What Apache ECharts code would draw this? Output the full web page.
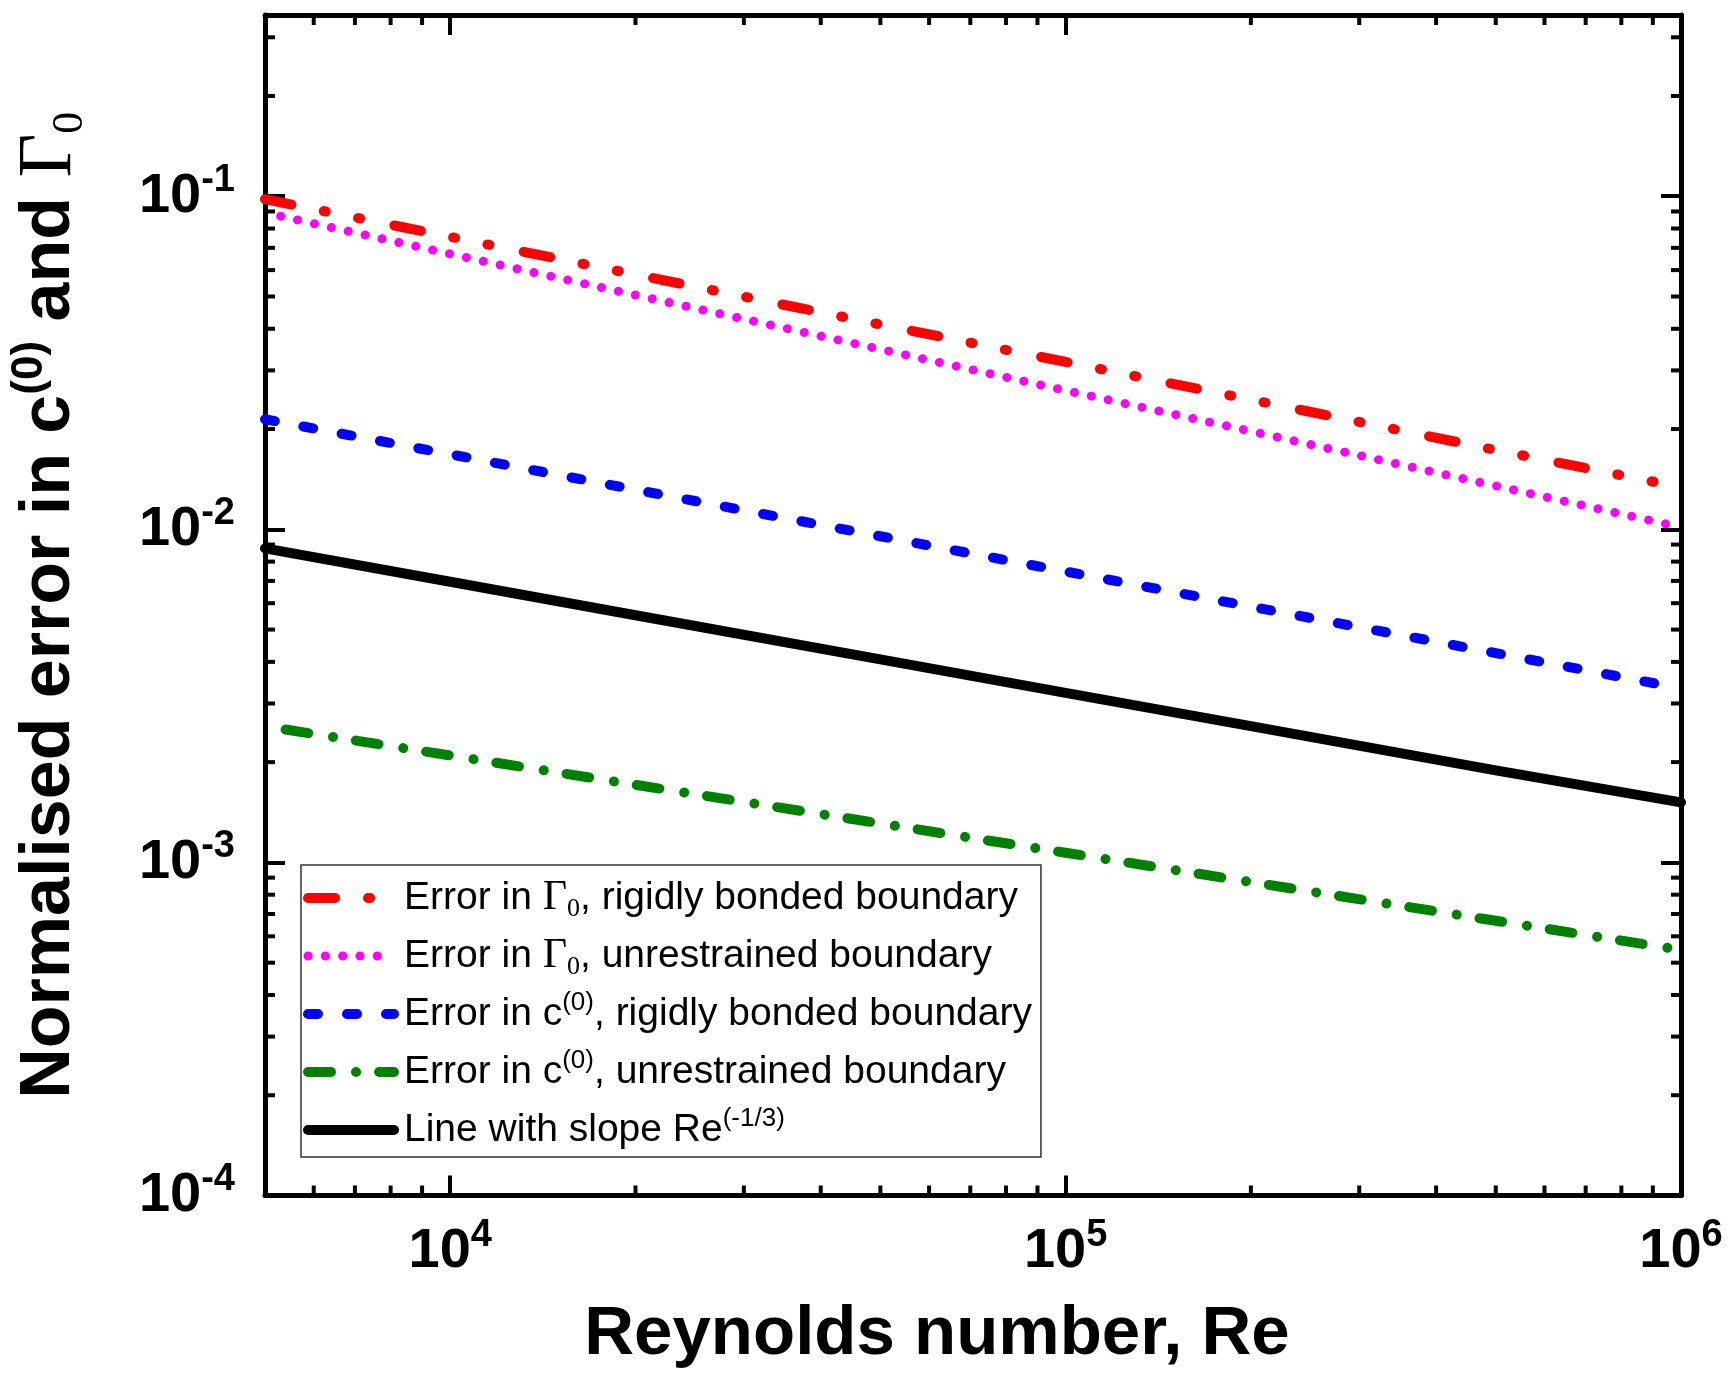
<!DOCTYPE html>
<html>
<head>
<meta charset="utf-8">
<script src="https://cdn.jsdelivr.net/npm/echarts@6/dist/echarts.min.js"></script>
<style>
html,body{margin:0;padding:0;background:#fff;}
#chart{width:1730px;height:1394px;}
</style>
</head>
<body>
<div id="chart"></div>
<script>
// ---- data ----
const reFull = [5000, 10000, 20000, 50000, 100000, 200000, 500000, 1000000];
const reMagenta = [5300, 10000, 20000, 50000, 100000, 200000, 500000, 1000000];
const reGreen = [5400, 10000, 20000, 50000, 100000, 200000, 500000, 1000000];

const gammaRigid = [0.0980, 0.0755, 0.0582, 0.0412, 0.0318, 0.0245, 0.0173, 0.01337];
const gammaUnres = [0.0871, 0.0671, 0.0505, 0.0347, 0.0261, 0.0197, 0.0135, 0.01014];
const cRigid     = [0.0214, 0.0168, 0.01315, 0.00953, 0.00747, 0.00586, 0.00425, 0.00333];
const cUnres     = [0.002506, 0.002094, 0.001710, 0.001309, 0.001069, 0.000873, 0.000668, 0.000546];
const slopeLine  = [0.00877, 0.00696, 0.00552, 0.00407, 0.00323, 0.002564, 0.001889, 0.001514];

const seriesNames = [
  'Error in Γ0, rigidly bonded boundary',
  'Error in Γ0, unrestrained boundary',
  'Error in c(0), rigidly bonded boundary',
  'Error in c(0), unrestrained boundary',
  'Line with slope Re(-1/3)'
];
const legendRich = [
  '{pd| }{t|Error in }{g|Γ}{sub|0}{t|, rigidly bonded boundary}',
  '{pd| }{t|Error in }{g|Γ}{sub|0}{t|, unrestrained boundary}',
  '{pd| }{t|Error in c}{sup|(0)}{t|, rigidly bonded boundary}',
  '{pd| }{t|Error in c}{sup|(0)}{t|, unrestrained boundary}',
  '{pd| }{t|Line with slope Re}{sup|(-1/3)}'
];

const xMin = 5000, xMax = 1000000;
const yMin = 0.0001, yMax = 0.35;
const xMinorTicks = [6000, 7000, 8000, 9000,
  20000, 30000, 40000, 50000, 60000, 70000, 80000, 90000,
  200000, 300000, 400000, 500000, 600000, 700000, 800000, 900000];
const yMinorTicks = [0.0002, 0.0003, 0.0004, 0.0005, 0.0006, 0.0007, 0.0008, 0.0009,
  0.002, 0.003, 0.004, 0.005, 0.006, 0.007, 0.008, 0.009,
  0.02, 0.03, 0.04, 0.05, 0.06, 0.07, 0.08, 0.09,
  0.2, 0.3];

// ---- chart ----
const chart = echarts.init(document.getElementById('chart'), null, {renderer: 'canvas'});
const FONT = 'Liberation Sans, Arial, sans-serif';
const SERIF = 'Liberation Serif, Times New Roman, serif';

function pow10Label(v) {
  const l = Math.log10(v);
  const e = Math.round(l);
  if (Math.abs(l - e) > 1e-6) return '';
  return '{b|10}{s|' + e + '}';
}
const tickRich = {
  b: {fontFamily: FONT, fontWeight: 'bold', fontSize: 56, lineHeight: 70, color: '#000'},
  s: {fontFamily: FONT, fontWeight: 'bold', fontSize: 38, lineHeight: 38, verticalAlign: 'top', color: '#000'}
};
const frameLine = {show: true, onZero: false, lineStyle: {color: '#000', width: 5}};
const majorTick = {show: true, inside: true, length: 20, lineStyle: {color: '#000', width: 4}};

function pairs(xs, ys) { return xs.map((x, i) => [x, ys[i]]); }

const dashes = [[27, 33, 2, 33, 2, 35], [0.1, 17.2], [10, 29], [23, 25, 0.1, 23], 'solid'];
const colors = ['#ff0000', '#ff00ff', '#0000ff', '#008000', '#000000'];
const widths = [10, 9, 10, 10, 10];

function lineSeries(i, xs, ys) {
  return {
    name: seriesNames[i], type: 'line', xAxisIndex: 0, yAxisIndex: 0,
    data: pairs(xs, ys), showSymbol: false, symbol: 'none',
    lineStyle: {color: colors[i], width: widths[i], type: dashes[i], cap: 'round', join: 'round'},
    itemStyle: {color: colors[i]},
    emphasis: {disabled: true}, clip: true, z: 3
  };
}

const option = {
  animation: false,
  backgroundColor: '#fff',
  grid: {left: 265, right: 49, top: 15, bottom: 198.5, containLabel: false, outerBoundsMode: 'none'},
  xAxis: [
    {
      type: 'log', logBase: 10, min: xMin, max: xMax, position: 'bottom',
      name: 'Reynolds number, Re', nameLocation: 'middle', nameGap: 105,
      nameTextStyle: {fontFamily: FONT, fontWeight: 'bold', fontSize: 69, color: '#000', padding: [0, 72, 0, 0]},
      axisLine: frameLine, axisTick: majorTick, minorTick: {show: false},
      splitLine: {show: false},
      axisLabel: {show: true, margin: 21, formatter: pow10Label, rich: tickRich, color: '#000',
                  showMinLabel: true, showMaxLabel: true, hideOverlap: false}
    },
    {
      type: 'log', logBase: 10, min: xMin, max: xMax, position: 'top',
      axisLine: frameLine, axisTick: majorTick, splitLine: {show: false},
      axisLabel: {show: false}
    }
  ],
  yAxis: [
    {
      type: 'log', logBase: 10, min: yMin, max: yMax, position: 'left',
      name: '{a|Normalised error in c}{sp|(0)}{a| and }{g|Γ}{sb|0}',
      nameLocation: 'middle', nameRotate: 90, nameGap: 173,
      nameTextStyle: {
        color: '#000',
        rich: {
          a: {fontFamily: FONT, fontWeight: 'bold', fontSize: 70, lineHeight: 84, color: '#000'},
          sp: {fontFamily: FONT, fontWeight: 'bold', fontSize: 44, lineHeight: 44, verticalAlign: 'top', color: '#000'},
          g: {fontFamily: SERIF, fontSize: 76, lineHeight: 84, color: '#000'},
          sb: {fontFamily: SERIF, fontSize: 44, lineHeight: 44, verticalAlign: 'bottom', color: '#000'}
        }
      },
      axisLine: frameLine, axisTick: majorTick, splitLine: {show: false},
      axisLabel: {show: true, margin: 30, formatter: pow10Label, rich: tickRich, color: '#000',
                  showMinLabel: true, showMaxLabel: true, hideOverlap: false}
    },
    {
      type: 'log', logBase: 10, min: yMin, max: yMax, position: 'right',
      axisLine: frameLine, axisTick: majorTick, splitLine: {show: false},
      axisLabel: {show: false}
    }
  ],
  legend: {
    orient: 'vertical', left: 301, top: 865,
    padding: [9, 9, 3, 2],
    itemGap: 10, itemWidth: 86, itemHeight: 16,
    backgroundColor: '#fff', borderColor: '#333', borderWidth: 1.5, borderRadius: 0,
    selectedMode: false,
    itemStyle: {opacity: 0},
    lineStyle: {width: 10, cap: 'round'},
    data: seriesNames.map((n, i) => ({
      name: n,
      itemStyle: {opacity: 0},
      lineStyle: {color: colors[i], width: widths[i], type: dashes[i], cap: 'round'}
    })),
    formatter: function (name) { return legendRich[seriesNames.indexOf(name)]; },
    textStyle: {
      fontFamily: FONT, fontSize: 39, lineHeight: 48, color: '#000',
      rich: {
        pd: {fontFamily: FONT, fontSize: 39, lineHeight: 48, width: 5},
        t: {fontFamily: FONT, fontSize: 39, lineHeight: 48, color: '#000'},
        g: {fontFamily: SERIF, fontSize: 42, lineHeight: 48, color: '#000'},
        sub: {fontFamily: SERIF, fontSize: 26, lineHeight: 26, verticalAlign: 'bottom', color: '#000'},
        sup: {fontFamily: FONT, fontSize: 26, lineHeight: 26, verticalAlign: 'top', color: '#000'}
      }
    }
  },
  series: [
    lineSeries(0, reFull, gammaRigid),
    lineSeries(1, reMagenta, gammaUnres),
    lineSeries(2, reFull, cRigid),
    lineSeries(3, reGreen, cUnres),
    lineSeries(4, reFull, slopeLine),
    {
      type: 'custom', coordinateSystem: 'cartesian2d', xAxisIndex: 0, yAxisIndex: 0,
      silent: true, clip: false, z: 5,
      data: xMinorTicks.map(v => [v, yMin]),
      renderItem: function (params, api) {
        const p = api.coord([api.value(0), api.value(1)]);
        const cs = params.coordSys;
        const st = {stroke: '#000', lineWidth: 4};
        return {type: 'group', children: [
          {type: 'line', shape: {x1: p[0], y1: cs.y + cs.height, x2: p[0], y2: cs.y + cs.height - 10}, style: st},
          {type: 'line', shape: {x1: p[0], y1: cs.y, x2: p[0], y2: cs.y + 10}, style: st}
        ]};
      }
    },
    {
      type: 'custom', coordinateSystem: 'cartesian2d', xAxisIndex: 0, yAxisIndex: 0,
      silent: true, clip: false, z: 5,
      data: yMinorTicks.map(v => [xMin, v]),
      renderItem: function (params, api) {
        const p = api.coord([api.value(0), api.value(1)]);
        const cs = params.coordSys;
        const st = {stroke: '#000', lineWidth: 4};
        return {type: 'group', children: [
          {type: 'line', shape: {x1: cs.x, y1: p[1], x2: cs.x + 10, y2: p[1]}, style: st},
          {type: 'line', shape: {x1: cs.x + cs.width, y1: p[1], x2: cs.x + cs.width - 10, y2: p[1]}, style: st}
        ]};
      }
    }
  ]
};
chart.setOption(option);
</script>
</body>
</html>
